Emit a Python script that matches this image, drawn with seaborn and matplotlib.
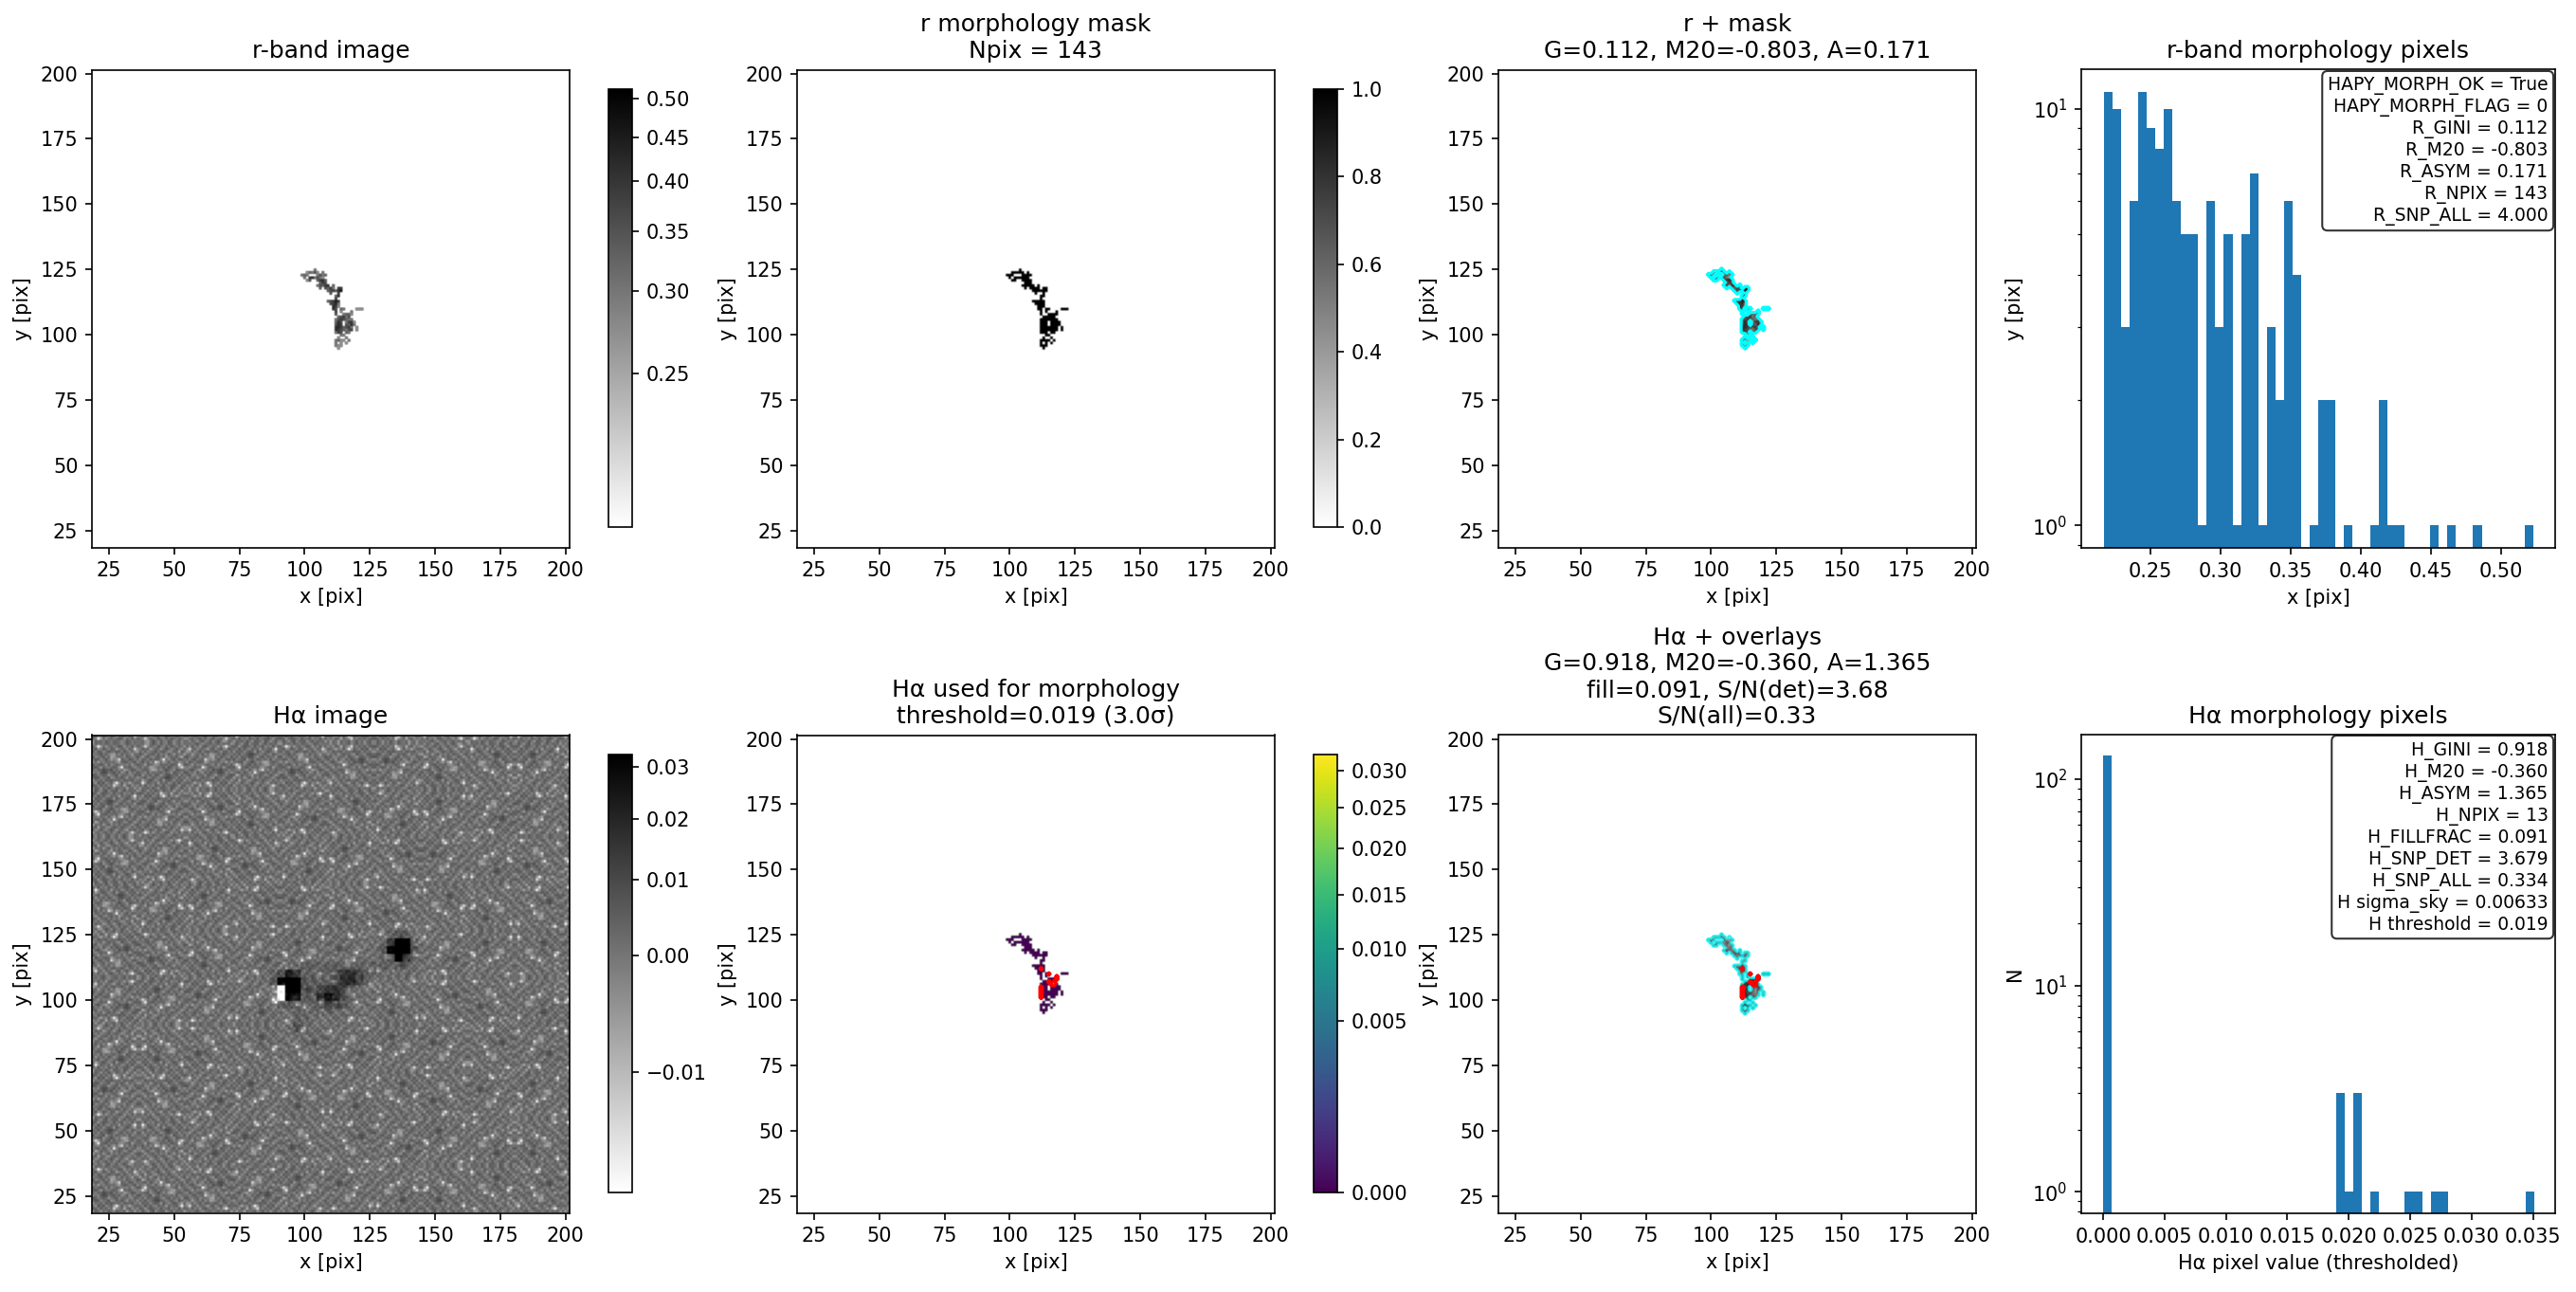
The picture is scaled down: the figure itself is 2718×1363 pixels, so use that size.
import numpy as np
import seaborn as sns
import matplotlib
matplotlib.use('Agg')
import matplotlib.pyplot as plt
from matplotlib.colors import PowerNorm

# r-band intensity levels inside the morphology mask, one string per row
# first row is y=125, first character is x=98, '.' = outside the mask
r_rows = [
    "......3",
    "...24352.3",
    ".343...3534",
    "..3.673532",
    "...25..4674",
    "........465",
    ".......35467.4",
    "........4.5463.66",
    "...........456479",
    "............5..6",
    "..............47",
    "..............6",
    "...........45686",
    "............5673",
    ".............762",
    ".............75.43....222",
    "..............6.2...3",
    "..............5..3442",
    "...............45635",
    "..............3565433",
    "..............475.3662",
    "..............576.5473",
    "..............7764563.2",
    "..............7654356.2",
    "..............365.43",
    "................33",
    "...............2..3",
    "..............3422.3",
    "..............3.2.2",
    "..............322",
    "...............2",
]
r_level_step = 0.03
r_level_zero = 0.21

# pixels above the Halpha threshold
det_x = [112, 112, 112, 112, 112, 112, 115, 115, 116, 117, 117, 118, 118]
det_y = [101, 102, 103, 104, 105, 112, 110, 107, 106, 106, 107, 108, 109]
det_val = [0.0193, 0.0195, 0.0196, 0.0200, 0.0206, 0.0207, 0.0209,
           0.0222, 0.0249, 0.0256, 0.0272, 0.0276, 0.0348]

# sky patch read from the upper left of the Halpha image, units of 0.001
sky_patch = [
    [2, -3, 4, 1, -4, 3, 6, -2, 0, 5, -3, 2, 7, 1, -6, -4, 3, 1],
    [-5, 1, 3, -2, 2, 5, -1, 4, -3, 1, 6, -2, 0, 3, -4, -12, -3, 2],
    [3, -4, -1, 6, 0, -3, 2, 7, 1, -5, 2, 4, -2, -6, 3, 1, 5, -1],
    [1, 5, -7, 2, 4, -2, -4, 1, 5, 3, -1, 6, 2, 0, -3, 4, -2, 3],
    [-6, 2, 0, 3, -5, 1, 6, -3, 2, -2, 4, -1, 5, 3, 1, -4, 2, 6],
    [4, -8, -3, 5, 1, 3, -1, -6, 3, 0, 5, 2, -3, -1, 6, 2, -5, 0],
    [0, 3, 5, -2, 6, 2, -4, 1, -13, -2, 3, 4, 1, 5, -2, 3, 4, -3],
    [2, -1, -4, 3, 1, -3, 5, -2, -6, 1, -7, -12, 2, -3, 4, -1, 6, 1],
    [5, -5, -13, 1, 4, 6, 0, 3, 2, 4, -3, -5, -1, 2, 5, -6, 1, 3],
    [-3, -12, -6, 2, -2, 3, 7, -1, 5, 0, 2, -2, -6, -7, 1, 3, -2, 4],
    [1, 2, 4, 6, -4, 0, 3, 8, 2, -3, 1, -6, -8, -5, 2, 5, 3, -1],
    [6, -2, 1, 3, 7, -5, 1, 4, -1, 5, 2, 0, 3, -2, 6, -3, 1, 2],
    [-1, 4, -3, 5, 2, 3, 8, 6, 0, -4, 3, 6, -2, 4, 1, 2, -5, 5],
    [3, 0, 6, -2, 1, 5, 9, 10, 4, 2, -2, 1, 5, 0, -3, 6, 2, -1],
    [-4, 5, 2, 4, -3, 2, 6, 3, -5, 6, 1, -3, 2, 7, 3, -2, -7, 3],
    [2, -2, 7, 0, 5, -1, -3, 4, 1, 3, -6, 4, 0, 2, 5, -4, -13, 1],
    [5, 3, -5, 2, 6, 4, 1, -2, 6, -1, 2, 5, -3, 1, -2, 6, -3, 4],
    [-2, 6, 1, -4, 3, 7, -3, 2, 4, 5, -4, 1, 6, -1, 4, 2, 3, -5],
]

# how the sky patch is turned in each block of the frame:
# quarter turns, plus 4 for a left-right flip
sky_turns = [
    [3, 6, 1, 7, 0, 5, 2, 6, 4, 1, 7],
    [0, 4, 2, 5, 3, 1, 7, 0, 2, 6, 3],
    [5, 1, 7, 0, 6, 2, 4, 3, 5, 0, 1],
    [2, 6, 3, 4, 1, 7, 0, 5, 1, 7, 4],
    [7, 0, 5, 2, 4, 3, 6, 1, 3, 2, 6],
    [1, 3, 6, 7, 0, 5, 2, 7, 0, 4, 5],
    [4, 2, 0, 1, 5, 6, 3, 4, 6, 1, 2],
    [6, 7, 4, 3, 2, 0, 1, 5, 2, 3, 0],
    [0, 5, 1, 6, 7, 4, 2, 0, 7, 5, 4],
    [3, 2, 7, 0, 3, 1, 5, 6, 4, 0, 6],
    [5, 4, 0, 2, 6, 7, 3, 1, 5, 2, 1],
]

# Halpha emission blobs in 3x3 pixel cells, units of 0.001
# first row is y=124-126, first column is x=84-86
ha_core = [
    [0, 0, 0, 0, 0, 0, 0, 0, 0, 0, 0, 0, 0, 0, 0, 0, 2, 6, 4, 0],
    [0, 0, 0, 0, 0, 0, 0, 0, 0, 0, 0, 0, 0, 0, 0, 2, 12, 40, 35, 3],
    [0, 0, 0, 0, 0, 0, 0, 0, 0, 0, 0, 0, 0, 0, 0, 5, 40, 50, 50, 8],
    [0, 0, 0, 0, 0, 0, 0, 0, 0, 0, 0, 0, 0, 0, 0, 2, 6, 35, 12, 2],
    [0, 0, 0, 0, 2, 3, 3, 3, 3, 3, 3, 3, 3, 3, 3, 3, 2, 3, 2, 0],
    [0, 2, 8, 22, 12, 3, 3, 3, 3, 8, 14, 16, 10, 4, 3, 0, 0, 0, 0, 0],
    [0, 6, 35, 50, 40, 5, 3, 3, 3, 8, 16, 18, 10, 3, 0, 0, 0, 0, 0, 0],
    [0, -3, -18, 35, 40, 5, 3, 8, 14, 14, 10, 3, 0, 0, 0, 0, 0, 0, 0, 0],
    [0, -3, -18, 30, 25, 3, 3, 16, 25, 18, 8, 3, 0, 0, 0, 0, 0, 0, 0, 0],
    [0, -2, 3, 5, 3, 2, 2, 4, 10, 5, 3, 0, 0, 0, 0, 0, 0, 0, 0, 0],
    [0, 0, 0, 0, 2, 2, 2, 2, 2, 0, 0, 0, 0, 0, 0, 0, 0, 0, 0, 0],
    [0, 0, 0, 0, 3, 2, 0, 0, 0, 0, 0, 0, 0, 0, 0, 0, 0, 0, 0, 0],
    [0, 0, 0, 2, 8, 2, 0, 0, 0, 0, 0, 0, 0, 0, 0, 0, 0, 0, 0, 0],
]

# histograms, 50 bins between min and max
r_hist_counts = [11, 10, 3, 6, 11, 9, 8, 10, 6, 5, 5, 1, 6, 3, 5, 1, 5, 7, 1, 3, 2, 6, 4, 0, 1,
                 2, 2, 0, 1, 0, 0, 1, 2, 1, 1, 0, 0, 0, 1, 0, 1, 0, 0, 1, 0, 0, 0, 0, 0, 1]
r_hist_range = (0.2164, 0.5230)
ha_hist_counts = [130, 0, 0, 0, 0, 0, 0, 0, 0, 0, 0, 0, 0, 0, 0, 0, 0, 0, 0, 0, 0, 0, 0, 0, 0,
                  0, 0, 3, 1, 3, 0, 1, 0, 0, 0, 1, 1, 0, 1, 1, 0, 0, 0, 0, 0, 0, 0, 0, 0, 1]
ha_hist_range = (0.0, 0.0351)
ha_hist_ticks = [0.0, 0.005, 0.01, 0.015, 0.02, 0.025, 0.03, 0.035]

r_box = ["HAPY_MORPH_OK = True", "HAPY_MORPH_FLAG = 0", "R_GINI = 0.112", "R_M20 = -0.803",
         "R_ASYM = 0.171", "R_NPIX = 143", "R_SNP_ALL = 4.000"]
ha_box = ["H_GINI = 0.918", "H_M20 = -0.360", "H_ASYM = 1.365", "H_NPIX = 13", "H_FILLFRAC = 0.091",
          "H_SNP_DET = 3.679", "H_SNP_ALL = 0.334", "H sigma_sky = 0.00633", "H threshold = 0.019"]

W, H = 2718, 1363
X0, NPIX = 19, 183
xx = np.arange(X0, X0 + NPIX)


def to_image(xs, ys, vals):
    img = np.full((NPIX, NPIX), np.nan)
    for x, y, v in zip(xs, ys, vals):
        img[y - X0, x - X0] = v
    return img


def add_axes(x0, y0, x1, y1):
    # pixel box in the output picture, y from the top
    return fig.add_axes([x0 / W, 1 - y1 / H, (x1 - x0) / W, (y1 - y0) / H])


def show_image(pos, img, cmap, norm, title):
    ax = add_axes(*pos)
    im = ax.imshow(img, origin='lower', cmap=cmap, norm=norm,
                   extent=(X0 - 0.5, X0 + NPIX - 0.5, X0 - 0.5, X0 + NPIX - 0.5))
    ax.set_xticks(np.arange(25, 201, 25))
    ax.set_yticks(np.arange(25, 201, 25))
    ax.set_xlabel('x [pix]')
    ax.set_ylabel('y [pix]')
    ax.set_title(title)
    return ax, im


def add_cbar(im, ax_pos, ticks):
    cax = add_axes(ax_pos[2] + 41, ax_pos[1] + 21, ax_pos[2] + 66, ax_pos[3] - 22)
    cb = fig.colorbar(im, cax=cax)
    cb.set_ticks(ticks)
    cb.ax.minorticks_off()


def add_hist(pos, counts, rng, xlim, ylim, title, xlabel, ylabel, box):
    ax = add_axes(*pos)
    edges = np.linspace(rng[0], rng[1], len(counts) + 1)
    centers = 0.5 * (edges[:-1] + edges[1:])
    # a plain list here, histplot compares bins with the string 'auto'
    sns.histplot(x=centers, weights=counts, bins=edges.tolist(), color='#1f77b4', alpha=1, linewidth=0, ax=ax)
    ax.set_yscale('log')
    ax.set_xlim(xlim)
    ax.set_ylim(ylim)
    ax.set_title(title)
    ax.set_xlabel(xlabel)
    ax.set_ylabel(ylabel)
    ax.text(0.985, 0.985, '\n'.join(box), transform=ax.transAxes, ha='right', va='top', fontsize=9,
            bbox=dict(boxstyle='round', facecolor='white', alpha=0.8))
    return ax


# mask and r image from the pixel rows
mask_x, mask_y, r_val = [], [], []
for i, row in enumerate(r_rows):
    for j, c in enumerate(row):
        if c != '.':
            mask_x.append(98 + j)
            mask_y.append(125 - i)
            r_val.append(r_level_zero + r_level_step * int(c))
r_img = to_image(mask_x, mask_y, r_val)
mask = np.nan_to_num(to_image(mask_x, mask_y, np.ones(len(mask_x))))

det = np.nan_to_num(to_image(det_x, det_y, np.ones(len(det_x))))
ha_thresh = np.where(mask > 0, 0.0, np.nan)
for x, y, v in zip(det_x, det_y, det_val):
    ha_thresh[y - X0, x - X0] = v

# Halpha image: the sky patch laid over the frame as sky_turns says, plus the blobs
patch = np.array(sky_patch, dtype=float)
blocks = []
for line in sky_turns:
    blocks.append([np.fliplr(np.rot90(patch, t)) if t > 3 else np.rot90(patch, t) for t in line])
ha_img = np.block(blocks)[:NPIX, :NPIX]
cells = np.flipud(np.kron(np.array(ha_core, dtype=float), np.ones((3, 3))))
ha_img[88 - X0:88 - X0 + cells.shape[0], 84 - X0:84 - X0 + cells.shape[1]] += cells
ha_img = ha_img * 1e-3
ha_in_mask = np.where(mask > 0, ha_img, np.nan)

r_norm = PowerNorm(0.5, vmin=0.213, vmax=0.513)
ha_norm = PowerNorm(0.5, vmin=-0.0135, vmax=0.0325)
thr_norm = PowerNorm(0.5, vmin=0.0, vmax=0.0324)
mask_norm = plt.Normalize(0, 1)

fig = plt.figure(figsize=(W / 150, H / 150), dpi=150)

rows = [(73, 578), (775, 1280)]
cols = [(97, 601), (841, 1345), (1581, 2085)]


def box(c, r):
    return (cols[c][0], rows[r][0], cols[c][1], rows[r][1])


ax, im = show_image(box(0, 0), r_img, 'gray_r', r_norm, 'r-band image')
add_cbar(im, box(0, 0), [0.25, 0.30, 0.35, 0.40, 0.45, 0.50])

ax, im = show_image(box(1, 0), mask, 'gray_r', mask_norm, 'r morphology mask\nNpix = 143')
add_cbar(im, box(1, 0), [0, 0.2, 0.4, 0.6, 0.8, 1.0])

ax, im = show_image(box(2, 0), r_img, 'gray_r', r_norm, 'r + mask\nG=0.112, M20=-0.803, A=0.171')
ax.contour(xx, xx, mask, levels=[0.5], colors='cyan', linewidths=1.5)

add_hist((2196, 73, 2696, 578), r_hist_counts, r_hist_range, (0.2005, 0.5386), (0.884, 12.45),
         'r-band morphology pixels', 'x [pix]', 'y [pix]', r_box)

ax, im = show_image(box(0, 1), ha_img, 'gray_r', ha_norm, 'Hα image')
add_cbar(im, box(0, 1), [-0.01, 0.0, 0.01, 0.02, 0.03])

ax, im = show_image(box(1, 1), ha_thresh, 'viridis', thr_norm,
                    'Hα used for morphology\nthreshold=0.019 (3.0σ)')
ax.contour(xx, xx, det, levels=[0.5], colors='red', linewidths=1.5)
add_cbar(im, box(1, 1), [0.0, 0.005, 0.01, 0.015, 0.02, 0.025, 0.03])

ax, im = show_image(box(2, 1), ha_in_mask, 'gray_r', ha_norm,
                    'Hα + overlays\nG=0.918, M20=-0.360, A=1.365\nfill=0.091, S/N(det)=3.68\nS/N(all)=0.33')
ax.contour(xx, xx, mask, levels=[0.5], colors='cyan', linewidths=1.5, alpha=0.7)
ax.contour(xx, xx, det, levels=[0.5], colors='red', linewidths=1.5)

ax = add_hist((2196, 775, 2696, 1280), ha_hist_counts, ha_hist_range, (-0.00178, 0.0368), (0.787, 164),
              'Hα morphology pixels', 'Hα pixel value (thresholded)', 'N', ha_box)
ax.set_xticks(ha_hist_ticks)

fig.savefig('out.png', dpi=150)
